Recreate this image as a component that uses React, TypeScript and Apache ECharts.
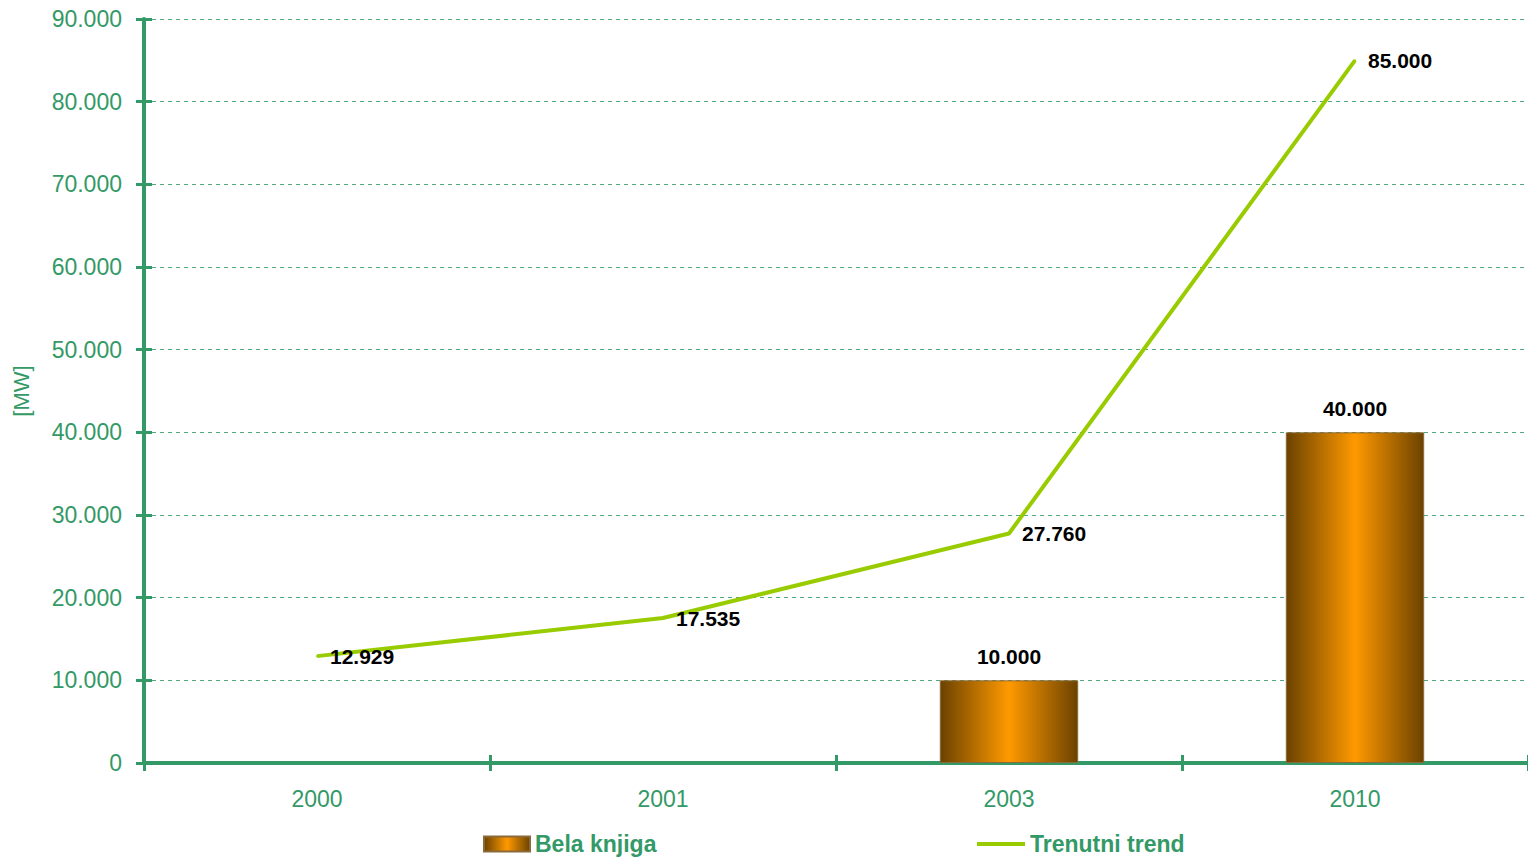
import React, { useEffect, useRef } from "react";
import * as echarts from "echarts";

const categories = ["2000", "2001", "2003", "2010"];
const belaKnjiga: (number | null)[] = [null, null, 10000, 40000];
const trenutniTrend = [12929, 17535, 27760, 85000];
const yMin = 0;
const yMax = 90000;
const yInterval = 10000;

const GREEN = "#339966";
const FONT = "'Liberation Sans', Arial, sans-serif";

const fmt = (v: number) =>
  String(Math.round(v)).replace(/\B(?=(\d{3})+(?!\d))/g, ".");

export default function App() {
  const ref = useRef<HTMLDivElement>(null);
  useEffect(() => {
    if (!ref.current) return;
    const chart = echarts.init(ref.current, null, { renderer: "svg" });
    const barGrad = new echarts.graphic.LinearGradient(0, 0, 1, 0, [
      { offset: 0, color: "#6b4200" },
      { offset: 0.5, color: "#ff9900" },
      { offset: 1, color: "#6b4200" },
    ]);
    chart.setOption({
      animation: false,
      backgroundColor: "#ffffff",
      textStyle: { fontFamily: FONT },
      grid: { left: 144, right: 0, top: 19, bottom: 95, containLabel: false },
      legend: [
        {
          data: [{ name: "Bela knjiga", icon: "rect" }],
          left: 478,
          top: 826,
          itemWidth: 46,
          itemHeight: 15,
          itemGap: 6,
          textStyle: { color: GREEN, fontSize: 23, fontWeight: "bold", fontFamily: FONT, lineHeight: 26 },
        },
        {
          data: [{ name: "Trenutni trend", icon: "rect" }],
          left: 972,
          top: 826,
          itemWidth: 48,
          itemHeight: 4,
          itemGap: 4,
          textStyle: { color: GREEN, fontSize: 23, fontWeight: "bold", fontFamily: FONT, lineHeight: 26 },
        },
      ],
      xAxis: [
        {
          type: "category",
          data: categories,
          boundaryGap: true,
          axisLine: { lineStyle: { color: GREEN, width: 4 } },
          axisTick: { show: true, length: 8, lineStyle: { color: GREEN, width: 3 } },
          axisLabel: { color: GREEN, fontSize: 23, margin: 24, fontFamily: FONT },
          splitLine: { show: false },
        },
        {
          type: "category",
          data: categories,
          position: "bottom",
          boundaryGap: true,
          axisLine: { show: false },
          axisTick: { show: true, inside: true, length: 8, lineStyle: { color: GREEN, width: 3 } },
          axisLabel: { show: false },
          splitLine: { show: false },
        },
      ],
      yAxis: [
        {
          type: "value",
          min: yMin,
          max: yMax,
          interval: yInterval,
          name: "[MW]",
          nameLocation: "middle",
          nameGap: 112,
          nameRotate: 90,
          nameTextStyle: { color: GREEN, fontSize: 22, fontFamily: FONT },
          axisLine: { show: true, lineStyle: { color: GREEN, width: 4 } },
          axisTick: { show: true, length: 8, lineStyle: { color: GREEN, width: 3 } },
          axisLabel: { color: GREEN, fontSize: 23, margin: 22, formatter: (v: number) => fmt(v), fontFamily: FONT },
          splitLine: { show: true, lineStyle: { color: GREEN, type: [4, 4], width: 1, opacity: 0.85 } },
        },
        {
          type: "value",
          min: yMin,
          max: yMax,
          interval: yInterval,
          position: "left",
          axisLine: { show: false },
          axisTick: { show: true, inside: true, length: 8, lineStyle: { color: GREEN, width: 3 } },
          axisLabel: { show: false },
          splitLine: { show: false },
        },
      ],
      series: [
        {
          name: "Bela knjiga",
          type: "bar",
          data: belaKnjiga,
          barWidth: "40%",
          itemStyle: { color: barGrad, borderColor: "#8a6a3a", borderWidth: 1 },
          label: {
            show: true,
            position: "top",
            distance: 13,
            color: "#000",
            fontSize: 21,
            fontWeight: "bold",
            fontFamily: FONT,
            formatter: (p: any) => fmt(p.value),
          },
        },
        {
          name: "Trenutni trend",
          type: "line",
          data: trenutniTrend,
          symbol: "circle",
          symbolSize: 2,
          showSymbol: true,
          lineStyle: { color: "#99cc00", width: 4 },
          itemStyle: { color: "#99cc00" },
          label: {
            show: true,
            position: "right",
            distance: 12,
            color: "#000",
            fontSize: 21,
            fontWeight: "bold",
            fontFamily: FONT,
            formatter: (p: any) => fmt(p.value),
          },
          labelLayout: { hideOverlap: false },
          z: 3,
        },
      ],
    });
    return () => chart.dispose();
  }, []);
  return (
    <div
      ref={ref}
      style={{ position: "fixed", left: 0, top: 0, width: 1528, height: 858 }}
    />
  );
}
